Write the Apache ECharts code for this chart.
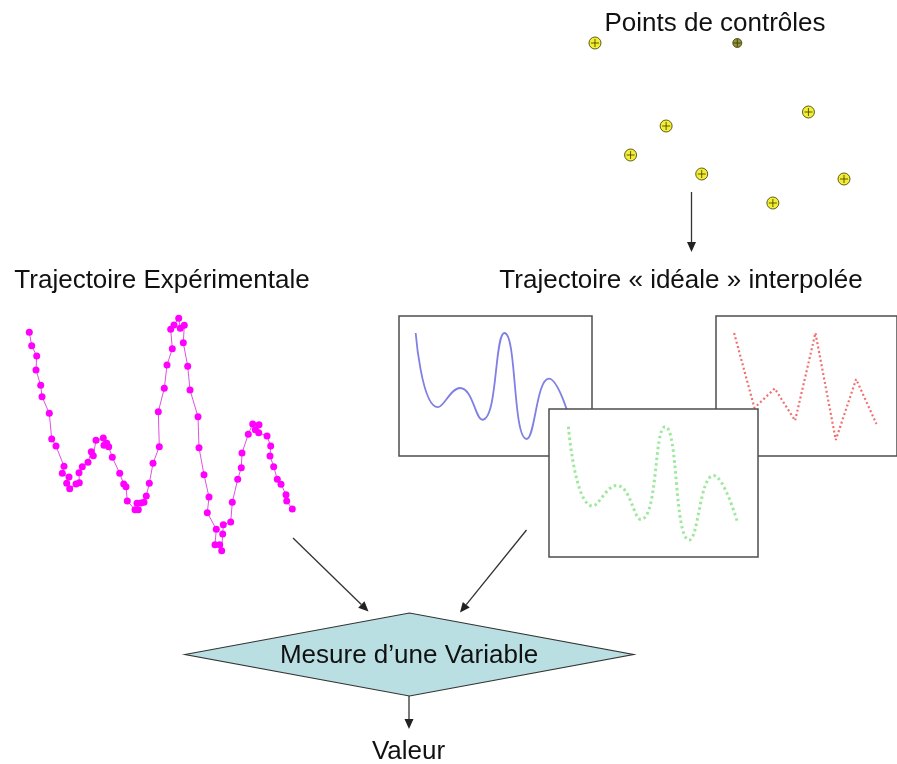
<!DOCTYPE html>
<html>
<head>
<meta charset="utf-8">
<script src="https://cdn.jsdelivr.net/npm/echarts@6/dist/echarts.min.js"></script>
<style>
html,body{margin:0;padding:0;background:#fff;}
#chart{width:897px;height:764px;}
</style>
</head>
<body>
<div id="chart"></div>
<script>
// ---- Data ----
// Experimental trajectory (x: time, y: height)
const trajX = [9.3,11.7,16.7,16,20.7,22,29.3,31.7,36,44,42.3,49,46.7,49.7,56,59.3,59,62.3,68,71.3,73.3,76,83.3,84,86.7,88.7,92.3,99.7,103.7,106,107.3,115,118.3,117,121,124,126.3,129.3,133,139.3,138.3,144.3,147,152.3,150.7,154,158.7,160.3,164.3,163.3,167.7,170,178,179,184,189,187.3,196.3,195,199.7,201.7,202.7,203.3,210.7,212.3,217.7,221.3,222,228.3,232.7,235.3,239,238.7,247,250.7,250,253.7,257.3,261,266,266.7,272.3];
const trajY = [227.7,214.3,204,190,174.7,163.3,146.7,121,114,93.7,86.7,83,76.7,71.3,76,77.3,87.3,93.3,97.7,108.3,104.3,119.7,122,114.7,116.7,113.3,102.7,86.7,76,73.3,59,50.3,50.3,56.7,57,57.7,64,76.7,96.7,113.3,148.3,171.7,195,211.3,230.7,235,241.7,231.7,234.7,217.3,193.7,170,143.3,112.3,85.3,63,47.3,30.7,15.3,15.3,9.3,26,35.3,38,57.7,80.7,92.3,107,125.7,136,130.3,135.3,127.3,124,114,104,93.3,80.7,75.7,65.3,59,51];
// Control points
const ctrlX = [0,1,2,3,4,5,6,7];
const ctrlY = [207,95,124,76,207,47,138,71];
// Labels
const titleCtrl = 'Points de contrôles';
const titleExp = 'Trajectoire Expérimentale';
const titleIdeal = 'Trajectoire « idéale » interpolée';
const labelMeasure = 'Mesure d’une Variable';
const labelValue = 'Valeur';

// ---- Build ----
const pairs = (xs, ys) => xs.map((x, i) => [x, ys[i]]);
const FONT = '"Liberation Sans", Arial, sans-serif';
const chart = echarts.init(document.getElementById('chart'), null, {renderer: 'canvas'});

function hiddenAxis(grid, min, max) {
  return {type: 'value', gridIndex: grid, min: min, max: max, show: false, splitLine: {show: false}};
}

const grids = [
  {left: 20, top: 300, width: 280, height: 260, show: false},                 // 0 experimental
  {left: 577.2, top: 30, width: 284.6, height: 190, show: false},             // 1 control pts
  {left: 399, top: 316, width: 193, height: 140, show: true, backgroundColor: '#fff', borderColor: '#4d4d4d', borderWidth: 1.5, z: 1}, // 2 blue
  {left: 716, top: 316, width: 200, height: 140, show: true, backgroundColor: '#fff', borderColor: '#4d4d4d', borderWidth: 1.5, z: 3}, // 3 red
  {left: 549, top: 409, width: 209, height: 148, show: true, backgroundColor: '#fff', borderColor: '#4d4d4d', borderWidth: 1.5, z: 5}  // 4 green
];

const xAxes = [
  hiddenAxis(0, 0, 280),
  hiddenAxis(1, -0.5, 7.5),
  hiddenAxis(2, -0.75, 7.94),
  hiddenAxis(3, -0.89, (916 - 736) / 22.47),
  hiddenAxis(4, -0.8, 7.84)
];
const yAxes = [
  hiddenAxis(0, 0, 260),
  hiddenAxis(1, 30, 220),
  hiddenAxis(2, 21.3, 232.7),
  hiddenAxis(3, 23.1, 232.4),
  hiddenAxis(4, 23, 232)
];

const ctrlData = pairs(ctrlX, ctrlY).map((p, i) => i === 4 ? {value: p, symbolSize: 9, itemStyle: {color: '#7a7a10'}} : p);

function arrow(x1, y1, x2, y2) {
  const ang = Math.atan2(y2 - y1, x2 - x1);
  const L = 10, W = 4.5;
  const bx = x2 - L * Math.cos(ang), by = y2 - L * Math.sin(ang);
  const px = -Math.sin(ang) * W, py = Math.cos(ang) * W;
  return [
    {type: 'line', shape: {x1: x1, y1: y1, x2: bx, y2: by}, style: {stroke: '#333', lineWidth: 1.3}, z: 10},
    {type: 'polygon', shape: {points: [[x2, y2], [bx + px, by + py], [bx - px, by - py]]}, style: {fill: '#222'}, z: 10}
  ];
}

function text(str, x, y, size) {
  return {type: 'text', x: x, y: y, z: 20, style: {text: str, fill: '#111', font: size + 'px ' + FONT, textAlign: 'center', textVerticalAlign: 'middle'}};
}

const graphics = [].concat(
  [text(titleCtrl, 715, 23.5, 26),
   text(titleExp, 162, 281, 26),
   text(titleIdeal, 681, 281, 26),
   {type: 'polygon', z: 8, shape: {points: [[185, 654.5], [409.5, 613], [633.5, 654.5], [409.5, 696]]}, style: {fill: '#b9dfe2', stroke: '#333', lineWidth: 1.2}},
   text(labelMeasure, 409, 655.5, 26),
   text(labelValue, 408.5, 751.5, 26)],
  arrow(691.5, 192, 691.5, 252),
  arrow(293, 538, 368.5, 611.5),
  arrow(526.5, 530, 460, 612.5),
  arrow(409, 696, 409, 729)
);

const option = {
  animation: false,
  backgroundColor: '#fff',
  grid: grids,
  xAxis: xAxes,
  yAxis: yAxes,
  graphic: {elements: graphics},
  series: [
    {
      type: 'line', xAxisIndex: 0, yAxisIndex: 0, data: pairs(trajX, trajY),
      symbol: 'circle', symbolSize: 7, showSymbol: true, showAllSymbol: true,
      itemStyle: {color: '#ff00ff'}, lineStyle: {color: '#e050e0', width: 1}, z: 3, clip: false
    },
    {
      type: 'scatter', xAxisIndex: 1, yAxisIndex: 1, data: ctrlData,
      symbol: 'circle', symbolSize: 12,
      itemStyle: {color: '#f0e800', borderColor: '#3a3a00', borderWidth: 1}, z: 3, clip: false
    },
    {
      type: 'scatter', xAxisIndex: 1, yAxisIndex: 1, data: pairs(ctrlX, ctrlY),
      symbol: 'path://M0,-10L0,10M-10,0L10,0', symbolSize: 8,
      itemStyle: {color: 'rgba(0,0,0,0)', borderColor: '#3a3a00', borderWidth: 1}, z: 4, clip: false
    },
    {
      type: 'line', xAxisIndex: 2, yAxisIndex: 2, data: pairs(ctrlX, ctrlY),
      smooth: 0.5, showSymbol: false, lineStyle: {color: '#7f7fe6', width: 1.8}, z: 2
    },
    {
      type: 'line', xAxisIndex: 3, yAxisIndex: 3, data: pairs(ctrlX, ctrlY),
      smooth: false, showSymbol: false, lineStyle: {color: '#f07070', width: 2.2, type: [2, 2.5]}, z: 4
    },
    {
      type: 'line', xAxisIndex: 4, yAxisIndex: 4, data: pairs(ctrlX, ctrlY),
      smooth: 0.5, showSymbol: false, lineStyle: {color: '#9ee89e', width: 3, type: [2.5, 3]}, z: 6
    }
  ]
};
chart.setOption(option);
</script>
</body>
</html>
